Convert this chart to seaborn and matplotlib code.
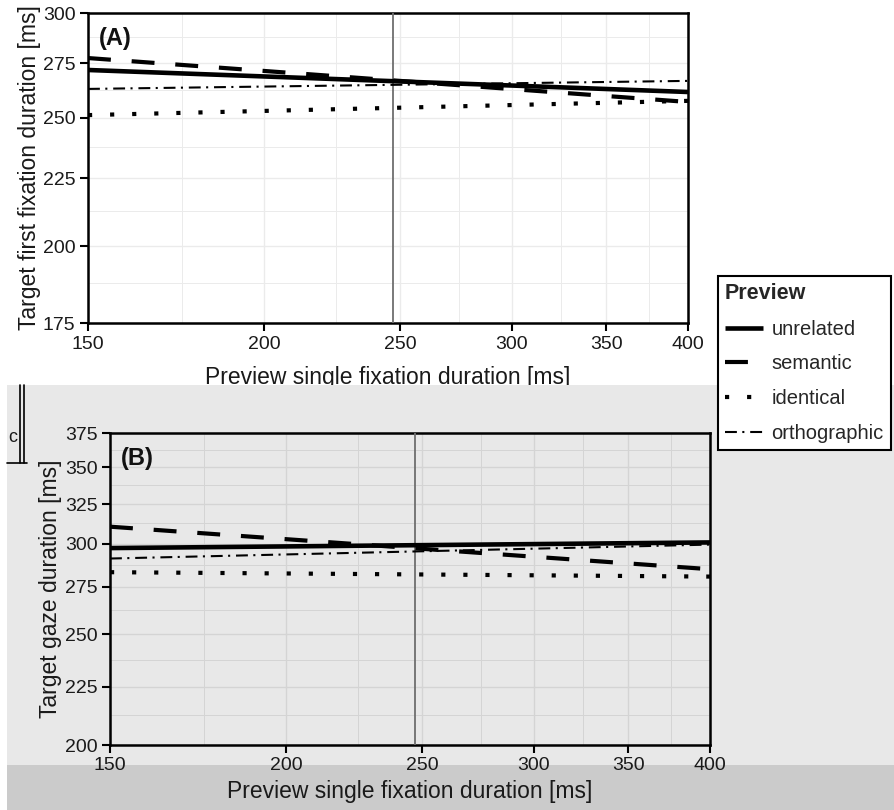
import numpy as np
import pandas as pd
import matplotlib
matplotlib.use("Agg")
import matplotlib.pyplot as plt
import seaborn as sns
from matplotlib.patches import Rectangle
from matplotlib.lines import Line2D
from matplotlib.ticker import FixedLocator, NullFormatter

sns.set_theme(style="white")
plt.rcParams['font.family'] = ['Liberation Sans', 'DejaVu Sans']

# ---------------- data ----------------
preview_levels = ["unrelated", "semantic", "identical", "orthographic"]
x_preview = [150, 400]
ffd_unrelated = [271.7, 261.5]
ffd_semantic = [277.4, 257.0]
ffd_identical = [251.2, 257.5]
ffd_orthographic = [262.9, 266.6]
gd_unrelated = [297.4, 300.8]
gd_semantic = [310.5, 285.0]
gd_identical = [283.3, 280.8]
gd_orthographic = [291.2, 299.5]
mean_preview = 247
x_ticks = [150, 200, 250, 300, 350, 400]
x_minor = [175, 225, 275, 325, 375]
ffd_ticks = [175, 200, 225, 250, 275, 300]
gd_ticks = [200, 225, 250, 275, 300, 325, 350, 375]

ffd = {"unrelated": ffd_unrelated, "semantic": ffd_semantic,
       "identical": ffd_identical, "orthographic": ffd_orthographic}
gd = {"unrelated": gd_unrelated, "semantic": gd_semantic,
      "identical": gd_identical, "orthographic": gd_orthographic}

def long_df(d):
    rows = []
    for lev in preview_levels:
        for xv, yv in zip(x_preview, d[lev]):
            rows.append({"x": xv, "y": yv, "Preview": lev})
    return pd.DataFrame(rows)

df_a = long_df(ffd)
df_b = long_df(gd)

styles = {
    "unrelated": dict(lw=3.3, ls="-"),
    "semantic": dict(lw=3.0, ls=(0, (5.5, 5))),
    "identical": dict(lw=3.0, ls=(0, (1, 4.3))),
    "orthographic": dict(lw=1.5, ls=(0, (5.7, 2.6, 1, 2.8))),
}

W, H = 895, 810
fig = plt.figure(figsize=(W / 100, H / 100), dpi=100)
fig.patch.set_facecolor("white")

def fx(px):
    return px / W

def fy(py):
    return 1 - py / H

# background bands (glitched scan look)
fig.patches.append(Rectangle((fx(7), fy(765)), fx(895 - 7), (765 - 385) / H,
                             transform=fig.transFigure, facecolor="#e8e8e8",
                             edgecolor="none", zorder=1))
fig.patches.append(Rectangle((fx(7), 0), fx(895 - 7), (810 - 765) / H,
                             transform=fig.transFigure, facecolor="#cbcbcb",
                             edgecolor="none", zorder=1))

axA = fig.add_axes([fx(88), fy(323), fx(600), 310 / H])
axB = fig.add_axes([fx(110), fy(745), fx(600), 312 / H])
axA.set_zorder(0)
axB.set_zorder(2)

def style_axis(ax, df, yticks, ylim, facecolor, gridcolor, ylabel, tag,
               xlabelpad, ylabelpad):
    ax.set_facecolor(facecolor)
    ax.set_xscale("log")
    ax.set_yscale("log")
    for lev in preview_levels:
        sub = df[df["Preview"] == lev]
        st = styles[lev]
        sns.lineplot(data=sub, x="x", y="y", ax=ax, color="black",
                     linewidth=st["lw"], linestyle=st["ls"],
                     dash_capstyle="butt", solid_capstyle="butt",
                     legend=False, zorder=4)
    ax.axvline(mean_preview, color="#6e6e6e", lw=1.3, zorder=3)
    ax.set_xlim(150, 400)
    ax.set_ylim(*ylim)
    ax.xaxis.set_major_locator(FixedLocator(x_ticks))
    ax.xaxis.set_minor_locator(FixedLocator(x_minor))
    ax.set_xticklabels([str(t) for t in x_ticks])
    ax.xaxis.set_minor_formatter(NullFormatter())
    ax.yaxis.set_major_locator(FixedLocator(yticks))
    ymin = [(a + b) / 2 for a, b in zip(yticks[:-1], yticks[1:])]
    ax.yaxis.set_minor_locator(FixedLocator(ymin))
    ax.set_yticklabels([str(t) for t in yticks])
    ax.yaxis.set_minor_formatter(NullFormatter())
    ax.grid(True, which="major", color=gridcolor, lw=1.0, zorder=0)
    ax.grid(True, which="minor", color=gridcolor, lw=0.7, zorder=0)
    ax.set_axisbelow(True)
    for s in ax.spines.values():
        s.set_visible(True)
        s.set_color("black")
        s.set_linewidth(1.8)
    ax.tick_params(axis="both", which="major", direction="out", length=6,
                   width=1.5, color="black", labelsize=14, labelcolor="#1a1a1a",
                   bottom=True, left=True, pad=3)
    ax.tick_params(axis="both", which="minor", length=0)
    ax.set_xlabel("Preview single fixation duration [ms]", fontsize=16.5,
                  color="#1a1a1a", labelpad=xlabelpad)
    ax.set_ylabel(ylabel, fontsize=16.5, color="#1a1a1a", labelpad=ylabelpad)
    ax.text(0.018, 0.955, tag, transform=ax.transAxes, fontsize=17,
            fontweight="bold", ha="left", va="top", color="#111111", zorder=6)

style_axis(axA, df_a, ffd_ticks, (175, 300), "white", "#ebebeb",
           "Target first fixation duration [ms]", "(A)", 10, 1)
style_axis(axB, df_b, gd_ticks, (200, 375), "#e8e8e8", "#d4d4d4",
           "Target gaze duration [ms]", "(B)", 4, 2)

# legend
handles = [Line2D([0], [0], color="black", lw=styles[l]["lw"],
                  linestyle=styles[l]["ls"], dash_capstyle="butt",
                  solid_capstyle="butt") for l in preview_levels]
leg = fig.legend(handles, preview_levels, title="Preview", loc="upper left",
                 bbox_to_anchor=(fx(718), fy(276)), frameon=True,
                 fancybox=False, edgecolor="black", facecolor="white",
                 framealpha=1, fontsize=14.5, title_fontsize=15.5,
                 handlelength=1.9, labelspacing=0.78, borderaxespad=0,
                 borderpad=0.35, handletextpad=0.4, alignment="left")
leg.get_title().set_fontweight("bold")
leg.get_frame().set_linewidth(1.5)
leg.set_zorder(10)

# stray fragment at the left edge
for xp in (20, 24):
    fig.add_artist(Line2D([fx(xp), fx(xp)], [fy(463), fy(385)],
                          transform=fig.transFigure, color="black", lw=1.2,
                          zorder=5))
fig.add_artist(Line2D([fx(7), fx(27)], [fy(463), fy(463)],
                      transform=fig.transFigure, color="black", lw=1.2,
                      zorder=5))
fig.text(fx(8), fy(437), "c", fontsize=13, ha="left", va="center",
         color="#1a1a1a", zorder=5)

fig.savefig("out.png", dpi=100, facecolor=fig.get_facecolor())
